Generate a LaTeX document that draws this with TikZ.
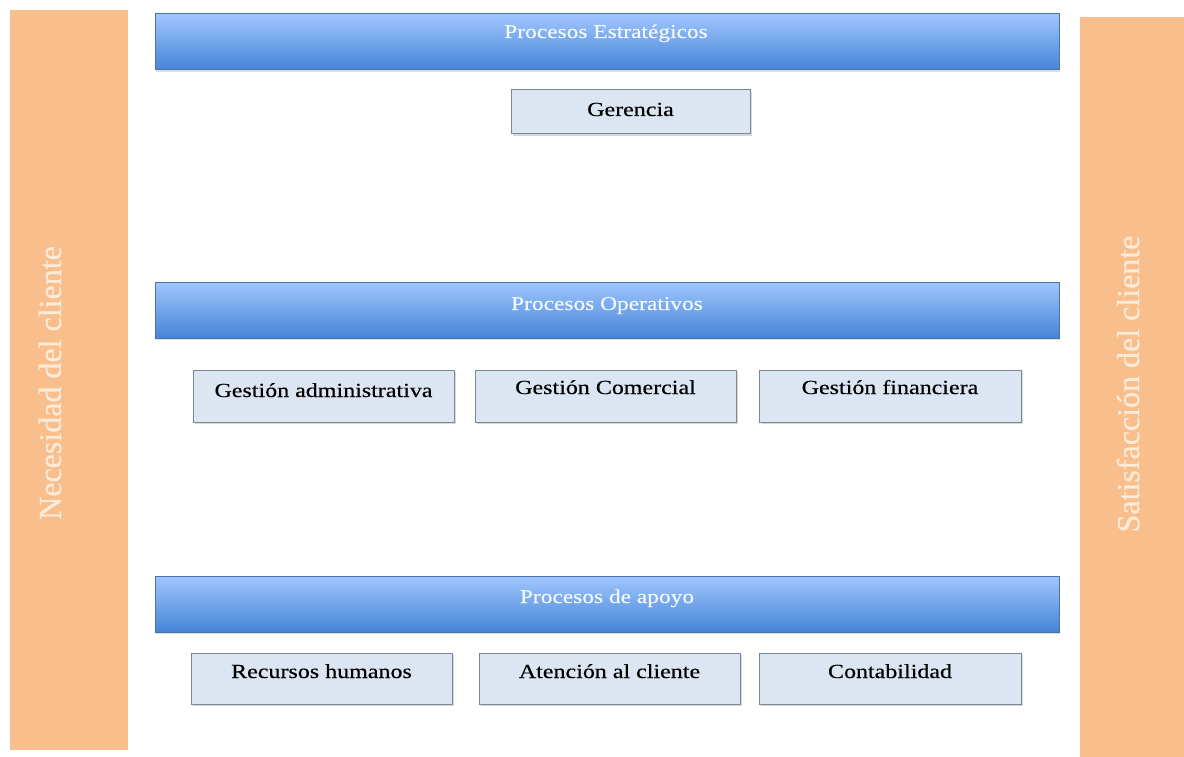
\documentclass[tikz,border=0pt]{standalone}
\usepackage{fontspec}
\setmainfont{Liberation Serif}
\newfontfamily\boxfont[FakeStretch=1.2,FakeBold=0.4]{Liberation Serif}
\newfontfamily\sidefont[FakeBold=0.6]{Liberation Serif}
\usetikzlibrary{shadows}
\definecolor{orangebar}{HTML}{F8BF8C}
\definecolor{orangetext}{HTML}{FDEBDA}
\definecolor{bluetop}{HTML}{A0C6FF}
\definecolor{bluebot}{HTML}{4584D6}
\definecolor{blueedge}{HTML}{4A74A8}
\definecolor{boxfill}{HTML}{DCE6F2}
\definecolor{boxedge}{HTML}{7A8796}
\definecolor{bartextcol}{HTML}{F2F8FF}
\tikzset{
  sidebar/.style={fill=orangebar, draw=none},
  sidetext/.style={text=orangetext, font=\sidefont\fontsize{32}{34}\selectfont, rotate=90},
  bluebar/.style={draw=blueedge, line width=1pt, top color=bluetop, bottom color=bluebot,
    drop shadow={shadow xshift=1pt, shadow yshift=-2pt, opacity=0.25}},
  bartext/.style={text=bartextcol, anchor=base, font=\boxfont\fontsize{19.5}{22}\selectfont},
  procbox/.style={draw=boxedge, line width=1pt, fill=boxfill,
    drop shadow={shadow xshift=1.5pt, shadow yshift=-2pt, opacity=0.3}},
  boxtext/.style={text=black, anchor=base, font=\boxfont\fontsize{20}{22}\selectfont}
}
\begin{document}
\begin{tikzpicture}[x=1pt,y=-1pt]
\useasboundingbox (0,0) rectangle (1184,757);
\fill[white] (0,0) rectangle (1184,757);
% side bars
\fill[sidebar] (10,10) rectangle (128,750);
\fill[sidebar] (1080,17) rectangle (1184,757);
\node[sidetext] (nec) at (50,383) {Necesidad del cliente};
\node[sidetext] (sat) at (1128,384) {Satisfacción del cliente};
% blue bars
\path[bluebar] (155,14) rectangle (1059,70);
\node[bartext] (pe) at (606,38) {Procesos Estratégicos};
\path[bluebar] (155,282) rectangle (1059,338);
\node[bartext] (po) at (607,310) {Procesos Operativos};
\path[bluebar] (155,576) rectangle (1059,632);
\node[bartext] (pa) at (607,603) {Procesos de apoyo};
% boxes
\path[procbox] (511,90) rectangle (750,134);
\node[boxtext] (ger) at (630.5,116) {Gerencia};
\path[procbox] (193,370) rectangle (454,422);
\node[boxtext] (ga) at (323.5,397) {Gestión administrativa};
\path[procbox] (475,370) rectangle (736,422);
\node[boxtext] (gc) at (605.5,394) {Gestión Comercial};
\path[procbox] (759,370) rectangle (1021,422);
\node[boxtext] (gf) at (890,394) {Gestión financiera};
\path[procbox] (191,653) rectangle (452,704);
\node[boxtext] (rh) at (321.5,678) {Recursos humanos};
\path[procbox] (479,653) rectangle (740,704);
\node[boxtext] (ac) at (609.5,678) {Atención al cliente};
\path[procbox] (759,653) rectangle (1021,704);
\node[boxtext] (co) at (890,678) {Contabilidad};
\end{tikzpicture}
\end{document}
